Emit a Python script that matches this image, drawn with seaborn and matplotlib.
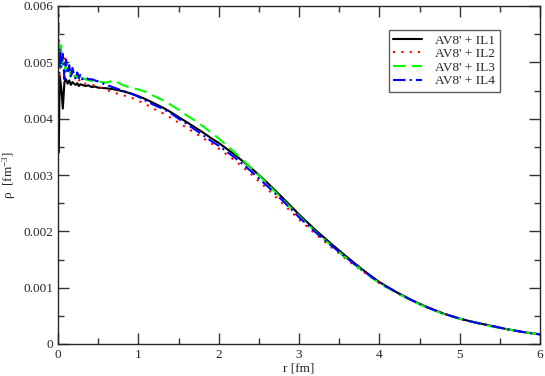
import numpy as np
import pandas as pd
import matplotlib
matplotlib.use("Agg")
import matplotlib.pyplot as plt
import seaborn as sns
from matplotlib.ticker import MultipleLocator, FuncFormatter

# ==========================================
# data
# ==========================================
r_fm = [0.01, 0.02, 0.04, 0.06, 0.08, 0.10, 0.12, 0.14, 0.16, 0.18, 0.20,
        0.22, 0.24, 0.26, 0.28, 0.30, 0.34, 0.38, 0.42, 0.46, 0.50,
        0.6, 0.7, 0.8, 0.9, 1.0, 1.1, 1.2, 1.3, 1.4, 1.5, 1.6, 1.7, 1.8, 1.9, 2.0,
        2.2, 2.4, 2.6, 2.8, 3.0, 3.2, 3.4, 3.6, 3.8, 4.0, 4.2, 4.4, 4.6, 4.8,
        5.0, 5.2, 5.4, 5.6, 5.8, 6.0]

rho_il1 = [0.00340, 0.00476, 0.00455, 0.00418, 0.00465, 0.00470, 0.00462, 0.00468,
           0.00460, 0.00465, 0.00462, 0.00460, 0.00463, 0.00458, 0.00461, 0.00460,
           0.00458, 0.00459, 0.00456, 0.00457, 0.00455,
           0.00454, 0.00452, 0.00449, 0.00445, 0.00440, 0.00434, 0.00427, 0.00420,
           0.00412, 0.00403, 0.00394, 0.00385, 0.00376, 0.00366, 0.00357,
           0.00336, 0.00313, 0.00287, 0.00259, 0.00230, 0.00203, 0.00178, 0.00154,
           0.00131, 0.00110, 0.00093, 0.00078, 0.00065, 0.00054,
           0.00045, 0.00038, 0.00032, 0.00026, 0.00021, 0.00017]

rho_il2 = [0.00585, 0.00470, 0.00520, 0.00495, 0.00510, 0.00485, 0.00490, 0.00478,
           0.00488, 0.00475, 0.00480, 0.00470, 0.00472, 0.00468, 0.00470, 0.00465,
           0.00462, 0.00462, 0.00460, 0.00459, 0.00457,
           0.00451, 0.00446, 0.00442, 0.00438, 0.00432, 0.00425, 0.00417, 0.00410,
           0.00402, 0.00393, 0.00384, 0.00375, 0.00366, 0.00357, 0.00347,
           0.00326, 0.00302, 0.00276, 0.00249, 0.00221, 0.00196, 0.00172, 0.00149,
           0.00128, 0.00108, 0.00092, 0.00077, 0.00065, 0.00054,
           0.00045, 0.00038, 0.00032, 0.00026, 0.00021, 0.00017]

rho_il3 = [0.00570, 0.00490, 0.00530, 0.00500, 0.00485, 0.00495, 0.00478, 0.00488,
           0.00475, 0.00483, 0.00478, 0.00472, 0.00480, 0.00470, 0.00476, 0.00472,
           0.00470, 0.00468, 0.00467, 0.00466, 0.00466,
           0.00464, 0.00468, 0.00460, 0.00455, 0.00452, 0.00447, 0.00440, 0.00433,
           0.00425, 0.00416, 0.00406, 0.00397, 0.00387, 0.00376, 0.00365,
           0.00340, 0.00313, 0.00285, 0.00256, 0.00227, 0.00200, 0.00175, 0.00151,
           0.00129, 0.00108, 0.00092, 0.00077, 0.00064, 0.00053,
           0.00045, 0.00038, 0.00031, 0.00026, 0.00021, 0.00017]

rho_il4 = [0.00450, 0.00525, 0.00490, 0.00515, 0.00470, 0.00505, 0.00480, 0.00495,
           0.00472, 0.00490, 0.00478, 0.00470, 0.00482, 0.00472, 0.00478, 0.00470,
           0.00474, 0.00470, 0.00470, 0.00468, 0.00466,
           0.00460, 0.00455, 0.00450, 0.00445, 0.00439, 0.00431, 0.00424, 0.00418,
           0.00410, 0.00400, 0.00391, 0.00381, 0.00371, 0.00361, 0.00352,
           0.00331, 0.00307, 0.00281, 0.00254, 0.00225, 0.00199, 0.00175, 0.00152,
           0.00130, 0.00109, 0.00093, 0.00078, 0.00065, 0.00054,
           0.00045, 0.00038, 0.00032, 0.00026, 0.00021, 0.00017]

labels = ["AV8' + IL1", "AV8' + IL2", "AV8' + IL3", "AV8' + IL4"]

# ==========================================
# style
# ==========================================
sns.set_style("ticks")
plt.rcParams["font.family"] = ["Liberation Serif", "DejaVu Serif"]
plt.rcParams["mathtext.fontset"] = "custom"
plt.rcParams["mathtext.rm"] = "Liberation Serif"
plt.rcParams["mathtext.it"] = "Liberation Serif:italic"

fig = plt.figure(figsize=(5.45, 3.76), dpi=100)
ax = fig.add_axes([58 / 545, 1 - 344 / 376, 482 / 545, 338 / 376])

styles = [
    dict(color="black", linestyle="-"),
    dict(color="red", linestyle=(0, (1, 3))),
    dict(color="#00ff00", linestyle=(0, (6, 3))),
    dict(color="blue", linestyle=(0, (6, 2, 1, 2))),
]
series = [rho_il1, rho_il2, rho_il3, rho_il4]

for rho, lab, st in zip(series, labels, styles):
    df = pd.DataFrame({"r": r_fm, "rho": rho})
    sns.lineplot(data=df, x="r", y="rho", ax=ax, label=lab, linewidth=1.5,
                 estimator=None, sort=False, **st)

ax.set_xlim(0, 6)
ax.set_ylim(0, 0.006)
ax.xaxis.set_major_locator(MultipleLocator(1))
ax.xaxis.set_minor_locator(MultipleLocator(0.5))
ax.yaxis.set_major_locator(MultipleLocator(0.001))
ax.yaxis.set_minor_locator(MultipleLocator(0.0005))
ax.yaxis.set_major_formatter(FuncFormatter(lambda v, p: "0" if abs(v) < 1e-9 else f"{v:.3f}"))
ax.xaxis.set_major_formatter(FuncFormatter(lambda v, p: f"{v:g}"))

ax.tick_params(which="both", direction="in", top=True, right=True, labelsize=9.5,
               width=1.0, color="#333333")
ax.tick_params(which="major", length=8)
ax.tick_params(which="minor", length=4.5)
for sp in ax.spines.values():
    sp.set_linewidth(1.0)
    sp.set_visible(True)

ax.set_xlabel("r [fm]", fontsize=9.5, labelpad=1)
ax.set_ylabel(r"ρ  [fm$^{-3}$]", fontsize=9.5, labelpad=4)

leg = ax.legend(loc="upper right", bbox_to_anchor=(0.917, 0.93), fontsize=9.5,
                frameon=True, fancybox=False, handlelength=2.2, borderpad=0.35,
                labelspacing=0.1, handletextpad=1.0, borderaxespad=0)
leg.get_frame().set_edgecolor("#333333")
leg.get_frame().set_linewidth(1.0)

fig.savefig("out.png", dpi=100)
plt.close(fig)
